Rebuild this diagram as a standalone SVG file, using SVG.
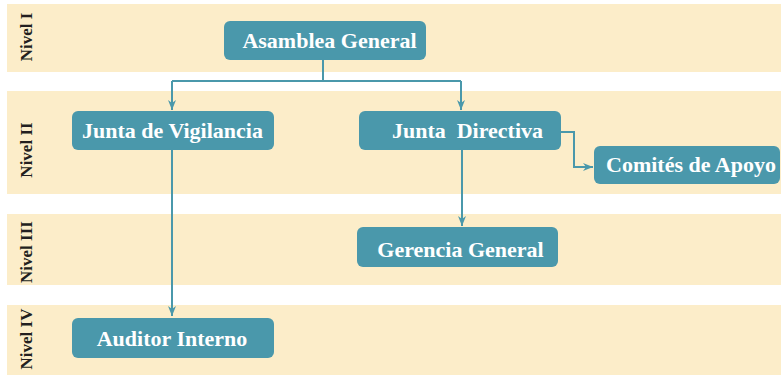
<svg xmlns="http://www.w3.org/2000/svg" width="781" height="375" viewBox="0 0 781 375">
<defs>
<style>
.band{fill:#FCEDC9}
.box{fill:#4A98AB}
.lbl{font-family:"Liberation Serif","Times New Roman",serif;font-weight:bold;font-size:22px;fill:#ffffff;text-anchor:middle}
.lvl{font-family:"Liberation Serif","Times New Roman",serif;font-weight:bold;font-size:17px;fill:#231F20;text-anchor:middle}
.con{fill:none;stroke:#4A98AB;stroke-width:2}
</style>
<marker id="arr" viewBox="0 0 10 8" refX="10" refY="4" markerWidth="10" markerHeight="8" markerUnits="userSpaceOnUse" orient="auto">
<path d="M0,0 L10,4 L0,8 L3,4 z" fill="#4A98AB"/>
</marker>
</defs>
<rect width="781" height="375" fill="#ffffff"/>
<g id="bands">
<rect class="band" x="7" y="4" width="774" height="68"/>
<rect class="band" x="7" y="91" width="774" height="103"/>
<rect class="band" x="7" y="214" width="774" height="71"/>
<rect class="band" x="7" y="305" width="774" height="70"/>
<text class="lvl" transform="translate(32,37) rotate(-90)">Nivel I</text>
<text class="lvl" transform="translate(32,150) rotate(-90)">Nivel II</text>
<text class="lvl" transform="translate(32,252) rotate(-90)">Nivel III</text>
<text class="lvl" transform="translate(32,339) rotate(-90)">Nivel IV</text>
</g>
<g id="connectors">
<path class="con" d="M323,60 V81"/>
<path class="con" d="M172,81 H461"/>
<path class="con" d="M172,81 V110" marker-end="url(#arr)"/>
<path class="con" d="M461,81 V110" marker-end="url(#arr)"/>
<path class="con" d="M172,150 V316" marker-end="url(#arr)"/>
<path class="con" d="M462,150 V226" marker-end="url(#arr)"/>
<path class="con" d="M561,132 H574 V167 H593" marker-end="url(#arr)"/>
</g>
<g id="asamblea">
<rect class="box" x="224" y="21" width="202" height="39" rx="6"/>
<text class="lbl" x="329.5" y="48">Asamblea General</text>
</g>
<g id="vigilancia">
<rect class="box" x="72" y="111" width="202" height="39" rx="6"/>
<text class="lbl" x="172.5" y="138">Junta de Vigilancia</text>
</g>
<g id="directiva">
<rect class="box" x="359" y="111" width="202" height="39" rx="6"/>
<text class="lbl" x="467.5" y="138" xml:space="preserve">Junta  Directiva</text>
</g>
<g id="comites">
<rect class="box" x="594" y="146" width="186" height="38" rx="6"/>
<text class="lbl" x="691" y="172">Comités de Apoyo</text>
</g>
<g id="gerencia">
<rect class="box" x="357" y="227" width="201" height="40" rx="6"/>
<text class="lbl" x="460.5" y="257">Gerencia General</text>
</g>
<g id="auditor">
<rect class="box" x="72" y="318" width="202" height="40" rx="6"/>
<text class="lbl" x="172" y="346">Auditor Interno</text>
</g>
</svg>
